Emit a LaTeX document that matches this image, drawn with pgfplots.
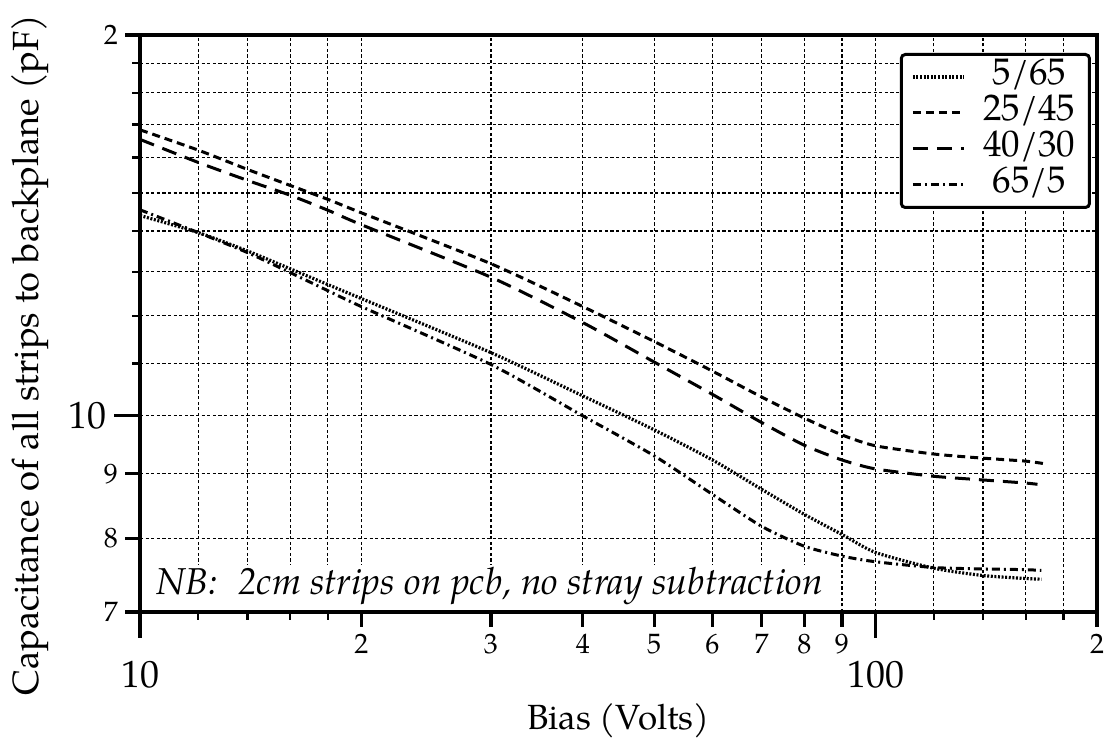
\documentclass[border=0pt]{standalone}
\usepackage{fontspec}
\setmainfont{TeX Gyre Pagella}
\usepackage{pgfplots}
\usepackage{pgfplotstable}
\pgfplotsset{compat=1.18}

% Capacitance of all strips to the backplane versus bias voltage
\pgfplotstableread{
V     C
10    14.40
12    13.96
14    13.50
16    13.07
18    12.70
20    12.38
30    11.22
40    10.37
50    9.75
60    9.23
70    8.75
80    8.36
90    8.06
100   7.80
120   7.58
140   7.48
160   7.44
168   7.43
}\tabA
\pgfplotstableread{
V     C
10    16.83
12    16.22
14    15.66
16    15.21
18    14.83
20    14.47
30    13.19
40    12.20
50    11.45
60    10.85
70    10.35
80    9.96
90    9.66
100   9.47
120   9.33
140   9.26
160   9.21
169   9.17
}\tabB
\pgfplotstableread{
V     C
10    16.54
12    15.86
14    15.35
16    14.94
18    14.54
20    14.16
30    12.87
40    11.85
50    11.03
60    10.40
70    9.88
80    9.48
90    9.23
100   9.08
120   8.96
140   8.90
160   8.85
166   8.83
}\tabC
\pgfplotstableread{
V     C
10    14.55
12    13.96
14    13.46
16    12.98
18    12.56
20    12.20
30    10.98
40    10.00
50    9.30
60    8.67
70    8.18
80    7.89
90    7.75
100   7.67
120   7.59
140   7.57
160   7.56
168   7.55
}\tabD

\begin{document}
\begin{tikzpicture}
\useasboundingbox (-70pt,-64pt) rectangle (484pt,306pt);
\begin{axis}[
  at={(0pt,0pt)}, anchor=south west,
  scale only axis, width=478.5pt, height=288.5pt,
  xmode=log, ymode=log,
  xmin=10, xmax=200, ymin=7, ymax=20,
  axis line style={line width=1.6pt},
  xtick pos=bottom, ytick pos=left,
  tick align=outside,
  major tick length=7.5pt, minor tick length=4pt,
  major tick style={line width=1.6pt, black},
  minor tick style={line width=1.2pt, black},
  xtick={20,30,40,50,60,70,80,90,200},
  xticklabels={2,3,4,5,6,7,8,9,2},
  minor xtick={12,14,16,18,120,140,160,180},
  extra x ticks={10,100},
  extra x tick labels={10,100},
  extra x tick style={major tick length=13pt, grid=major,
    tick label style={font=\fontsize{19}{19}\selectfont, yshift=-8pt}},
  ytick={7,8,9,20}, yticklabels={7,8,9,2},
  minor ytick={11,12,13,14,15,16,17,18,19},
  extra y ticks={10}, extra y tick labels={10},
  extra y tick style={major tick length=13pt, grid=major,
    tick label style={font=\fontsize{19}{19}\selectfont}},
  tick label style={font=\fontsize{14}{14}\selectfont},
  grid=both,
  grid style={black, line width=0.6pt, dash pattern=on 1.6pt off 1.2pt},
  major grid style={black, line width=0.6pt, dash pattern=on 1.6pt off 1.2pt},
  minor grid style={black, line width=0.6pt, dash pattern=on 1.6pt off 1.2pt},
  xlabel={Bias (Volts)},
  xlabel style={at={(axis description cs:0.5,-0.204)}, anchor=base,
    font=\fontsize{17.5}{17.5}\selectfont},
  ylabel={Capacitance of all strips to backplane (pF)},
  ylabel style={at={(axis description cs:-0.115,0.445)}, anchor=center,
    font=\fontsize{18.2}{18.2}\selectfont},
  legend image code/.code={\draw[#1] (0pt,0pt) -- (25.5pt,0pt);},
  legend style={at={(0.9937,0.9688)}, anchor=north east,
    draw=black, line width=1.5pt, rounded corners=2pt, fill=white,
    inner xsep=5pt, inner ysep=2.25pt, row sep=0pt,
    font=\fontsize{18.5}{18}\selectfont,
    nodes={inner sep=0pt, text height=13pt, text depth=5pt},
    /tikz/every odd column/.append style={column sep=7pt}},
  legend cell align=left,
]
\addplot[black, line width=1.6pt, dash pattern=on 1pt off 0.8pt, smooth, tension=0.4]
  table[x=V, y=C] {\tabA};
\addlegendentry{\makebox[50pt][c]{5/65}}
\addplot[black, line width=1.5pt, dash pattern=on 4pt off 2.5pt, smooth, tension=0.4]
  table[x=V, y=C] {\tabB};
\addlegendentry{\makebox[50pt][c]{25/45}}
\addplot[black, line width=1.5pt, dash pattern=on 7.5pt off 4.5pt, smooth, tension=0.4]
  table[x=V, y=C] {\tabC};
\addlegendentry{\makebox[50pt][c]{40/30}}
\addplot[black, line width=1.5pt, dash pattern=on 4pt off 2pt on 1pt off 2pt, smooth, tension=0.4]
  table[x=V, y=C] {\tabD};
\addlegendentry{\makebox[50pt][c]{65/5}}
\node[fill=white, anchor=south west, inner xsep=7pt, inner ysep=0pt,
      text height=15pt, text depth=7.5pt, font=\fontsize{18.7}{18.7}\selectfont\itshape,
      xshift=1pt, yshift=1pt]
  at (rel axis cs:0,0) {NB:\hspace{0.55em}2cm strips on pcb, no stray subtraction};
\end{axis}
\end{tikzpicture}
\end{document}
